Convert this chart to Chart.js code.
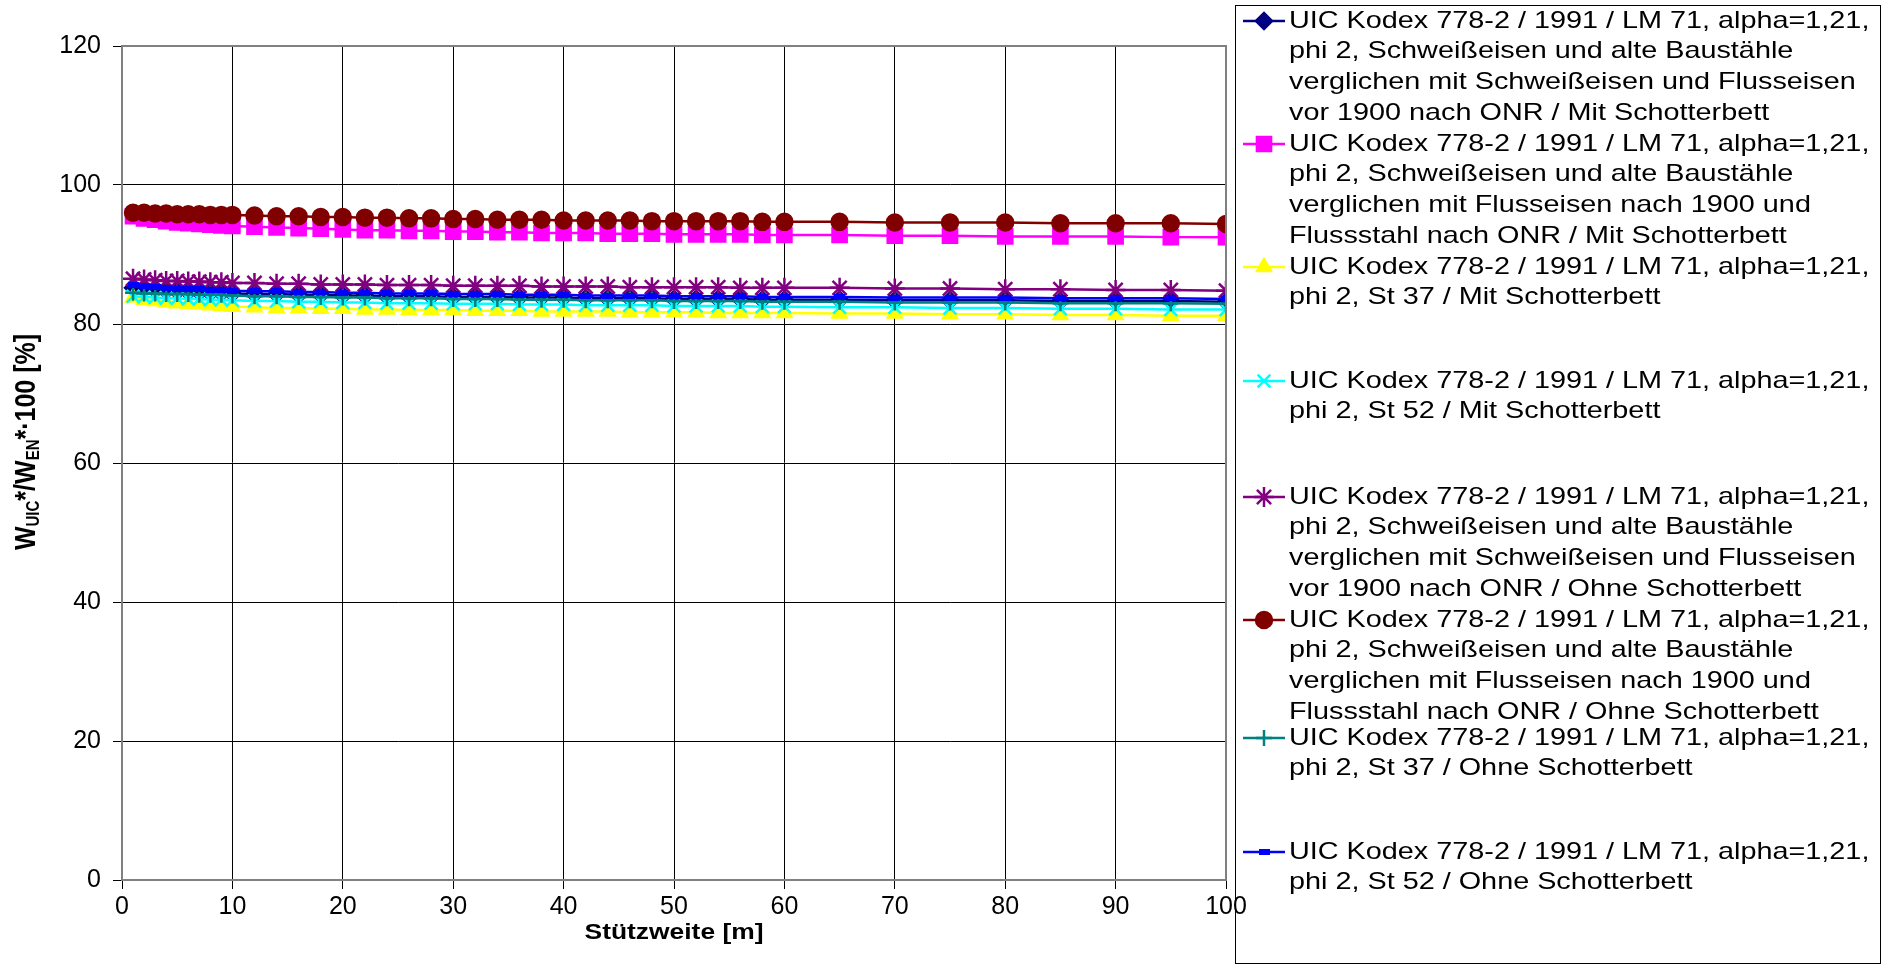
<!DOCTYPE html>
<html>
<head>
<meta charset="utf-8">
<script src="https://cdn.jsdelivr.net/npm/chart.js@4.4.1/dist/chart.umd.min.js"></script>
<style>
  html, body { margin: 0; padding: 0; background: #fff; }
  #wrap { width: 1892px; height: 975px; }
</style>
</head>
<body>
<div id="wrap"><canvas id="myChart" width="1892" height="975"></canvas></div>
<script>
// span lengths [m]
const spans = [1,2,3,4,5,6,7,8,9,10,12,14,16,18,20,22,24,26,28,30,32,34,36,38,40,42,44,46,48,50,52,54,56,58,60,65,70,75,80,85,90,95,100];

const mitSchweissVor1900 = [85.2,85.0,84.9,84.8,84.7,84.6,84.6,84.5,84.5,84.4, 84.3,84.3,84.2,84.2,84.1,84.1,84.0,84.0,84.0,83.9, 83.9,83.9,83.8,83.8,83.8,83.7,83.7,83.7,83.7,83.6, 83.6,83.6,83.6,83.5,83.5, 83.5,83.4,83.4,83.4,83.3,83.3,83.3,83.2];
const mitFlussNach1900 = [95.5,95.2,95.0,94.8,94.6,94.5,94.4,94.3,94.2,94.1, 94.0,93.9,93.8,93.7,93.6,93.5,93.5,93.4,93.4,93.3, 93.3,93.2,93.2,93.1,93.1,93.1,93.0,93.0,93.0,92.9, 92.9,92.9,92.9,92.8,92.8, 92.8,92.7,92.7,92.6,92.6,92.6,92.5,92.5];
const mitSt37 = [83.8,83.5,83.3,83.1,83.0,82.9,82.8,82.7,82.6,82.5, 82.4,82.3,82.3,82.2,82.2,82.1,82.1,82.0,82.0,82.0, 81.9,81.9,81.9,81.8,81.8,81.8,81.8,81.7,81.7,81.7, 81.7,81.6,81.6,81.6,81.6, 81.5,81.5,81.4,81.4,81.3,81.3,81.2,81.2];
const mitSt52 = [84.0,83.9,83.8,83.7,83.7,83.6,83.6,83.5,83.5,83.4, 83.3,83.3,83.2,83.2,83.1,83.1,83.0,83.0,83.0,82.9, 82.9,82.9,82.8,82.8,82.8,82.7,82.7,82.7,82.7,82.6, 82.6,82.6,82.6,82.5,82.5, 82.4,82.4,82.3,82.3,82.2,82.2,82.1,82.1];
const ohneSchweissVor1900 = [86.5,86.4,86.3,86.2,86.2,86.1,86.1,86.0,86.0,85.9, 85.9,85.8,85.8,85.7,85.7,85.7,85.6,85.6,85.6,85.5, 85.5,85.5,85.5,85.4,85.4,85.4,85.4,85.3,85.3,85.3, 85.3,85.3,85.2,85.2,85.2, 85.2,85.1,85.1,85.0,85.0,84.9,84.9,84.8];
const ohneFlussNach1900 = [96.0,96.0,95.9,95.9,95.8,95.8,95.8,95.7,95.7,95.7, 95.6,95.5,95.5,95.4,95.4,95.3,95.3,95.2,95.2,95.1, 95.1,95.0,95.0,95.0,94.9,94.9,94.9,94.9,94.8,94.8, 94.8,94.8,94.8,94.7,94.7, 94.7,94.6,94.6,94.6,94.5,94.5,94.5,94.4];
const ohneSt37 = [84.5,84.4,84.4,84.3,84.3,84.3,84.2,84.2,84.2,84.1, 84.0,84.0,83.9,83.9,83.8,83.8,83.7,83.7,83.7,83.6, 83.6,83.6,83.5,83.5,83.5,83.4,83.4,83.4,83.4,83.3, 83.3,83.3,83.3,83.2,83.2, 83.2,83.1,83.1,83.1,83.0,83.0,83.0,82.9];
const ohneSt52 = [85.6,85.4,85.3,85.2,85.1,85.0,85.0,84.9,84.9,84.8, 84.7,84.7,84.6,84.6,84.5,84.5,84.4,84.4,84.4,84.3, 84.3,84.3,84.2,84.2,84.2,84.1,84.1,84.1,84.1,84.0, 84.0,84.0,84.0,83.9,83.9, 83.9,83.8,83.8,83.8,83.7,83.7,83.7,83.6];

const xTicks = [0,10,20,30,40,50,60,70,80,90,100];
const yTicks = [0,20,40,60,80,100,120];

const head = 'UIC Kodex 778-2 / 1991 / LM 71, alpha=1,21,';
const labels = [
  [head, 'phi 2, Schweißeisen und alte Baustähle', 'verglichen mit Schweißeisen und Flusseisen', 'vor 1900 nach ONR / Mit Schotterbett'],
  [head, 'phi 2, Schweißeisen und alte Baustähle', 'verglichen mit Flusseisen nach 1900 und', 'Flussstahl nach ONR / Mit Schotterbett'],
  [head, 'phi 2, St 37 / Mit Schotterbett'],
  [head, 'phi 2, St 52 / Mit Schotterbett'],
  [head, 'phi 2, Schweißeisen und alte Baustähle', 'verglichen mit Schweißeisen und Flusseisen', 'vor 1900 nach ONR / Ohne Schotterbett'],
  [head, 'phi 2, Schweißeisen und alte Baustähle', 'verglichen mit Flusseisen nach 1900 und', 'Flussstahl nach ONR / Ohne Schotterbett'],
  [head, 'phi 2, St 37 / Ohne Schotterbett'],
  [head, 'phi 2, St 52 / Ohne Schotterbett']
];

// small horizontal dash marker for the last series
const dash = document.createElement('canvas');
dash.width = 11; dash.height = 6;
const dctx = dash.getContext('2d');
dctx.fillStyle = '#0000FF';
dctx.fillRect(0, 0, 11, 6);

const series = [
  { data: mitSchweissVor1900, color: '#000080', style: 'rectRot', r: 8 },
  { data: mitFlussNach1900, color: '#FF00FF', style: 'rect', r: 10 },
  { data: mitSt37, color: '#FFFF00', style: 'triangle', r: 8 },
  { data: mitSt52, color: '#00FFFF', style: 'crossRot', r: 9 },
  { data: ohneSchweissVor1900, color: '#800080', style: 'star', r: 10 },
  { data: ohneFlussNach1900, color: '#800000', style: 'circle', r: 8 },
  { data: ohneSt37, color: '#008080', style: 'cross', r: 8 },
  { data: ohneSt52, color: '#0000FF', style: dash, r: 5 }
];

const datasets = series.map((s, i) => ({
  label: labels[i].join(' '),
  data: spans.map((x, j) => ({ x: x, y: s.data[j] })),
  borderColor: s.color,
  backgroundColor: s.color,
  pointBackgroundColor: s.color,
  pointBorderColor: s.color,
  pointStyle: s.style,
  pointRadius: s.r,
  pointBorderWidth: 2.5,
  borderWidth: 2.5,
  tension: 0,
  fill: false,
  order: series.length - i
}));

const PLOT = { left: 122, top: 46, right: 1226, bottom: 880 };
const STRETCH = 1.2;

function stretchedText(ctx, txt, x, y) {
  ctx.save();
  ctx.translate(x, y);
  ctx.scale(STRETCH, 1);
  ctx.fillText(txt, 0, 0);
  ctx.restore();
}

const decor = {
  id: 'decor',
  beforeDraw(chart) {
    const ctx = chart.ctx;
    ctx.save();
    ctx.fillStyle = '#fff';
    ctx.fillRect(0, 0, chart.width, chart.height);
    ctx.restore();
  },
  afterDatasetsDraw(chart) {
    const ctx = chart.ctx;
    const a = chart.chartArea;
    ctx.save();
    ctx.strokeStyle = '#808080';
    ctx.lineWidth = 2;
    ctx.strokeRect(a.left, a.top, a.right - a.left, a.bottom - a.top);
    ctx.restore();
  },
  afterDraw(chart) {
    const ctx = chart.ctx;
    const a = chart.chartArea;
    ctx.save();
    ctx.fillStyle = '#000';

    // x title
    ctx.font = 'bold 22px "Liberation Sans", Arial, sans-serif';
    ctx.textBaseline = 'middle';
    ctx.textAlign = 'left';
    const xt = 'Stützweite [m]';
    const xw = ctx.measureText(xt).width * STRETCH;
    stretchedText(ctx, xt, (a.left + a.right) / 2 - xw / 2, 933);

    // y title with subscripts, rotated
    ctx.save();
    ctx.translate(27, 442);
    ctx.rotate(-Math.PI / 2);
    ctx.scale(1, STRETCH);
    const parts = [
      ['W', 25, 0], ['UIC', 15, 6], ['*/W', 25, 0], ['EN', 15, 6], ['*·100 [%]', 25, 0]
    ];
    let total = 0;
    parts.forEach(p => {
      ctx.font = 'bold ' + p[1] + 'px "Liberation Sans", Arial, sans-serif';
      total += ctx.measureText(p[0]).width;
    });
    let px = -total / 2;
    parts.forEach(p => {
      ctx.font = 'bold ' + p[1] + 'px "Liberation Sans", Arial, sans-serif';
      ctx.fillText(p[0], px, p[2]);
      px += ctx.measureText(p[0]).width;
    });
    ctx.restore();

    // legend
    ctx.strokeStyle = '#000';
    ctx.lineWidth = 1;
    ctx.strokeRect(1235.5, 5.5, 645, 958);
    const entryY = [21, 144, 267, 381, 497, 620, 738, 852];
    const lineH = 30.8;
    ctx.font = '24px "Liberation Sans", Arial, sans-serif';
    ctx.textBaseline = 'middle';
    series.forEach((s, i) => {
      const y = entryY[i];
      ctx.strokeStyle = s.color;
      ctx.lineWidth = 2.5;
      ctx.beginPath();
      ctx.moveTo(1243, y);
      ctx.lineTo(1285, y);
      ctx.stroke();
      ctx.fillStyle = s.color;
      Chart.helpers.drawPoint(ctx, { pointStyle: s.style, radius: s.r, borderWidth: 2.5, rotation: 0 }, 1264, y);
      ctx.fillStyle = '#000';
      labels[i].forEach((t, k) => stretchedText(ctx, t, 1289, y + k * lineH));
    });
    ctx.restore();
  }
};

Chart.defaults.font.family = '"Liberation Sans", Arial, sans-serif';
Chart.defaults.font.size = 24;
Chart.defaults.color = '#000';

const ctx = document.getElementById('myChart').getContext('2d');
const myChart = new Chart(ctx, {
  type: 'line',
  data: { datasets: datasets },
  options: {
    responsive: false,
    animation: false,
    layout: { padding: { left: 0, top: PLOT.top, right: 1892 - PLOT.right, bottom: 0 } },
    plugins: { legend: { display: false }, tooltip: { enabled: false }, title: { display: false } },
    scales: {
      x: {
        type: 'linear',
        min: 0, max: 100,
        afterFit: s => { s.height = 975 - PLOT.bottom; },
        afterBuildTicks: s => { s.ticks = xTicks.map(v => ({ value: v })); },
        ticks: { padding: 3, font: { size: 25 } },
        grid: { color: '#000', lineWidth: 1, tickLength: 9 },
        border: { color: '#808080', width: 2 }
      },
      y: {
        min: 0, max: 120,
        afterFit: s => { s.width = PLOT.left; },
        afterBuildTicks: s => { s.ticks = yTicks.map(v => ({ value: v })); },
        ticks: { padding: 12, font: { size: 25 } },
        grid: { color: '#000', lineWidth: 1, tickLength: 9 },
        border: { color: '#808080', width: 2 }
      }
    }
  },
  plugins: [decor]
});
</script>
</body>
</html>
